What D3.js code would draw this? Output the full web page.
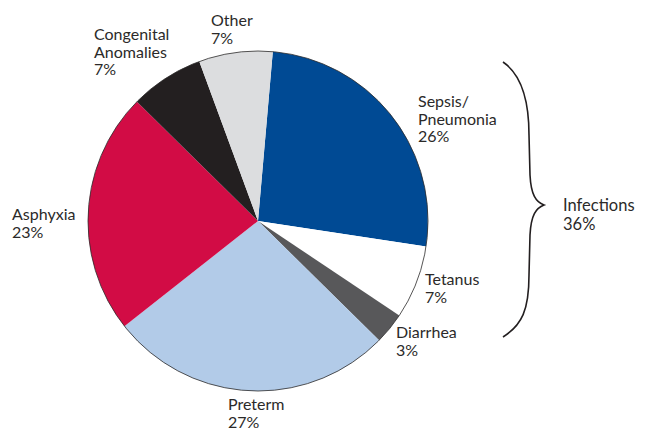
<!DOCTYPE html>
<html><head><meta charset="utf-8">
<script src="https://cdn.jsdelivr.net/npm/d3@7"></script>
<style>body{margin:0;background:#fff}svg text{font-family:Lato,"Open Sans",sans-serif;fill:#2b2a29}</style>
</head><body>
<svg id="c" width="645" height="429"></svg>
<script>
const categories = ["Sepsis/\nPneumonia", "Tetanus", "Diarrhea", "Preterm", "Asphyxia", "Congenital\nAnomalies", "Other"];
const values = [26, 7, 3, 27, 23, 7, 7];
const colors = ["#004a94", "#ffffff", "#58585a", "#b2cbe8", "#d20c45", "#231f20", "#dcdddf"];
const groupLabel = ["Infections", "36%"];

const svg = d3.select("#c");
const cx = 258, cy = 221, r = 170;
const start = 5 * Math.PI / 180;
const pie = d3.pie().sort(null).startAngle(start).endAngle(start + 2 * Math.PI);
const arcs = pie(values);
const arc = d3.arc().innerRadius(0).outerRadius(r);
const g = svg.append("g").attr("transform", `translate(${cx},${cy})`);
g.selectAll("path").data(arcs).join("path")
  .attr("d", arc).attr("fill", (d, i) => colors[i]);
g.append("circle").attr("r", r).attr("fill", "none").attr("stroke", "#2b2a29").attr("stroke-width", 0.8);

const labelPos = [[418, 107], [425, 285], [396, 338], [228, 410], [12, 220], [94, 40], [211, 26]];
const lh = 17.5;
categories.forEach((c, i) => {
  const lines = c.split("\n").concat([values[i] + "%"]);
  const t = svg.append("text").attr("x", labelPos[i][0]).attr("y", labelPos[i][1]).attr("font-size", 16);
  lines.forEach((l, j) => t.append("tspan").attr("x", labelPos[i][0]).attr("y", labelPos[i][1] + j * lh).text(l));
});

const brace = d3.path();
brace.moveTo(503, 62);
brace.bezierCurveTo(522, 75, 529, 100, 529, 135);
brace.lineTo(530, 175);
brace.bezierCurveTo(531, 195, 536, 202, 544, 205);
brace.bezierCurveTo(536, 208, 531, 215, 530, 235);
brace.lineTo(529, 275);
brace.bezierCurveTo(529, 310, 522, 325, 503, 337);
svg.append("path").attr("d", brace.toString()).attr("fill", "none").attr("stroke", "#231f20").attr("stroke-width", 1.6);

const gt = svg.append("text").attr("x", 563).attr("y", 211).attr("font-size", 16.5);
groupLabel.forEach((l, j) => gt.append("tspan").attr("x", 563).attr("y", 211 + j * 19).text(l));
</script>
</body></html>
